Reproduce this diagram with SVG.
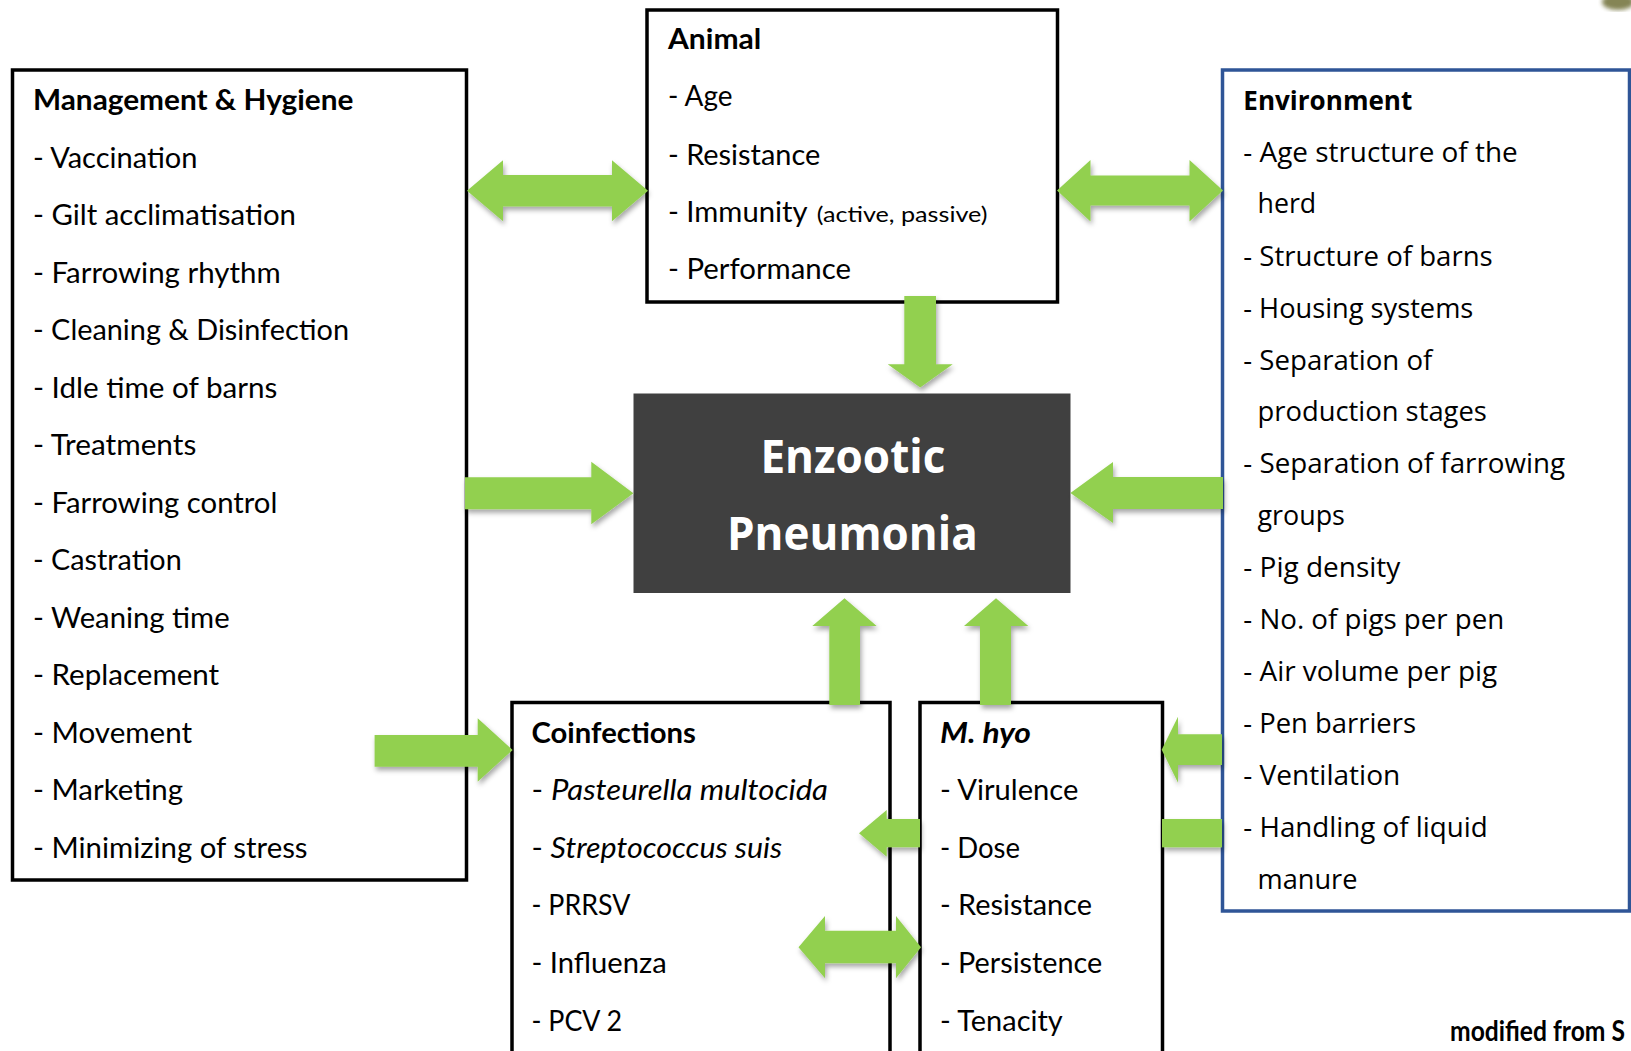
<svg xmlns="http://www.w3.org/2000/svg" width="1631" height="1051" viewBox="0 0 1631 1051">
<defs>
<style>
.box{fill:#fff;stroke:#000;stroke-width:3.5}
.envbox{fill:#fff;stroke:#2F5597;stroke-width:3.5}
.t{font-family:Lato,"Liberation Sans",sans-serif;font-size:28px;fill:#000}
.e{font-family:"Open Sans","Liberation Sans",sans-serif;font-size:27px;fill:#000}
.b{font-weight:700}
.i{font-style:italic}
.n{font-style:normal}
.ar{fill:#92D050;filter:url(#sh)}
.big{font-family:"Open Sans","Liberation Sans",sans-serif;font-size:47px;font-weight:700;fill:#fff}
</style>
<filter id="sh" x="-20%" y="-20%" width="150%" height="160%">
<feDropShadow dx="1.5" dy="3.5" stdDeviation="2.5" flood-color="#000" flood-opacity="0.35"/>
</filter>
<filter id="blur"><feGaussianBlur stdDeviation="2"/></filter>
</defs>
<rect width="1631" height="1051" fill="#fff"/>
<ellipse cx="1618" cy="2" rx="16" ry="8" fill="#707038" filter="url(#blur)" opacity="0.85"/>

<g id="management">
<rect class="box" x="12.5" y="70" width="454" height="810"/>
<text class="t b" x="33" y="110" textLength="320.4" lengthAdjust="spacingAndGlyphs">Management &amp; Hygiene</text>
<text class="t" x="33" y="167.5" textLength="164.5" lengthAdjust="spacingAndGlyphs">- Vaccination</text>
<text class="t" x="33" y="225" textLength="263" lengthAdjust="spacingAndGlyphs">- Gilt acclimatisation</text>
<text class="t" x="33" y="282.5" textLength="247.6" lengthAdjust="spacingAndGlyphs">- Farrowing rhythm</text>
<text class="t" x="33" y="340" textLength="316" lengthAdjust="spacingAndGlyphs">- Cleaning &amp; Disinfection</text>
<text class="t" x="33" y="397.5" textLength="244.4" lengthAdjust="spacingAndGlyphs">- Idle time of barns</text>
<text class="t" x="33" y="455" textLength="163.3" lengthAdjust="spacingAndGlyphs">- Treatments</text>
<text class="t" x="33" y="512.5" textLength="244.4" lengthAdjust="spacingAndGlyphs">- Farrowing control</text>
<text class="t" x="33" y="570" textLength="148.7" lengthAdjust="spacingAndGlyphs">- Castration</text>
<text class="t" x="33" y="627.5" textLength="196.6" lengthAdjust="spacingAndGlyphs">- Weaning time</text>
<text class="t" x="33" y="685" textLength="186.2" lengthAdjust="spacingAndGlyphs">- Replacement</text>
<text class="t" x="33" y="742.5" textLength="159" lengthAdjust="spacingAndGlyphs">- Movement</text>
<text class="t" x="33" y="800" textLength="150" lengthAdjust="spacingAndGlyphs">- Marketing</text>
<text class="t" x="33" y="857.5" textLength="274.6" lengthAdjust="spacingAndGlyphs">- Minimizing of stress</text>
</g>

<g id="animal">
<rect class="box" x="647" y="10" width="410.5" height="292"/>
<text class="t b" x="668" y="49.3" textLength="93.3" lengthAdjust="spacingAndGlyphs">Animal</text>
<text class="t" x="668" y="106" textLength="64.5" lengthAdjust="spacingAndGlyphs">- Age</text>
<text class="t" x="668" y="165" textLength="152.2" lengthAdjust="spacingAndGlyphs">- Resistance</text>
<text class="t" x="668" y="221.7"><tspan textLength="139.6" lengthAdjust="spacingAndGlyphs">- Immunity</tspan><tspan x="816.7" font-size="21" textLength="170.8" lengthAdjust="spacingAndGlyphs">(active, passive)</tspan></text>
<text class="t" x="668" y="279.3" textLength="183" lengthAdjust="spacingAndGlyphs">- Performance</text>
</g>

<g id="environment">
<rect class="envbox" x="1222.5" y="70" width="407" height="841"/>
<text class="e b" x="1243.3" y="110" textLength="169" lengthAdjust="spacingAndGlyphs">Environment</text>
<text class="e" x="1243.3" y="162.3" textLength="274.4" lengthAdjust="spacingAndGlyphs">- Age structure of the</text>
<text class="e" x="1257.5" y="213.3" textLength="58.7" lengthAdjust="spacingAndGlyphs">herd</text>
<text class="e" x="1243.3" y="265.7" textLength="249.4" lengthAdjust="spacingAndGlyphs">- Structure of barns</text>
<text class="e" x="1243.3" y="318.3" textLength="230" lengthAdjust="spacingAndGlyphs">- Housing systems</text>
<text class="e" x="1243.3" y="370" textLength="189" lengthAdjust="spacingAndGlyphs">- Separation of</text>
<text class="e" x="1257.5" y="420.7" textLength="229.4" lengthAdjust="spacingAndGlyphs">production stages</text>
<text class="e" x="1243.3" y="473.3" textLength="321.7" lengthAdjust="spacingAndGlyphs">- Separation of farrowing</text>
<text class="e" x="1257.5" y="525.2" textLength="87.4" lengthAdjust="spacingAndGlyphs">groups</text>
<text class="e" x="1243.3" y="577.1" textLength="157" lengthAdjust="spacingAndGlyphs">- Pig density</text>
<text class="e" x="1243.3" y="629" textLength="261" lengthAdjust="spacingAndGlyphs">- No. of pigs per pen</text>
<text class="e" x="1243.3" y="680.9" textLength="253.9" lengthAdjust="spacingAndGlyphs">- Air volume per pig</text>
<text class="e" x="1243.3" y="732.8" textLength="172.7" lengthAdjust="spacingAndGlyphs">- Pen barriers</text>
<text class="e" x="1243.3" y="784.7" textLength="157" lengthAdjust="spacingAndGlyphs">- Ventilation</text>
<text class="e" x="1243.3" y="836.6" textLength="244.5" lengthAdjust="spacingAndGlyphs">- Handling of liquid</text>
<text class="e" x="1257.5" y="888.5" textLength="100" lengthAdjust="spacingAndGlyphs">manure</text>
</g>

<g id="enzootic-pneumonia">
<rect x="633.5" y="393.5" width="437" height="199.5" fill="#404040"/>
<text class="big" x="760.4" y="473.3" textLength="185" lengthAdjust="spacingAndGlyphs">Enzootic</text>
<text class="big" x="727" y="550.3" textLength="250.7" lengthAdjust="spacingAndGlyphs">Pneumonia</text>
</g>

<g id="coinfections">
<rect class="box" x="512" y="702.5" width="378" height="360"/>
<text class="t b" x="531.5" y="742.7" textLength="164.4" lengthAdjust="spacingAndGlyphs">Coinfections</text>
<text class="t" x="531.5" y="800" textLength="296.5" lengthAdjust="spacingAndGlyphs">- <tspan class="i">Pasteurella multocida</tspan></text>
<text class="t" x="531.5" y="857.7" textLength="250.7" lengthAdjust="spacingAndGlyphs">- <tspan class="i">Streptococcus suis</tspan></text>
<text class="t" x="531.5" y="915" textLength="98.8" lengthAdjust="spacingAndGlyphs">- PRRSV</text>
<text class="t" x="531.5" y="972.7" textLength="135.2" lengthAdjust="spacingAndGlyphs">- Influenza</text>
<text class="t" x="531.5" y="1030.7" textLength="90.5" lengthAdjust="spacingAndGlyphs">- PCV 2</text>
</g>

<g id="m-hyo">
<rect class="box" x="920" y="702.5" width="242.5" height="360"/>
<text class="t b i" x="940" y="742.7" textLength="91" lengthAdjust="spacingAndGlyphs">M. hyo</text>
<text class="t" x="940" y="800" textLength="138.3" lengthAdjust="spacingAndGlyphs">- Virulence</text>
<text class="t" x="940" y="857.7" textLength="80" lengthAdjust="spacingAndGlyphs">- Dose</text>
<text class="t" x="940" y="915" textLength="152" lengthAdjust="spacingAndGlyphs">- Resistance</text>
<text class="t" x="940" y="972.7" textLength="162.3" lengthAdjust="spacingAndGlyphs">- Persistence</text>
<text class="t" x="940" y="1030.7" textLength="122.7" lengthAdjust="spacingAndGlyphs">- Tenacity</text>
</g>

<g id="connectors">
<polygon class="ar" points="467,190.7 503,160.2 503,174.9 612,174.9 612,160.2 648,190.7 612,221.2 612,206.5 503,206.5 503,221.2"/>
<polygon class="ar" points="1057,190.5 1090.5,160 1090.5,175.5 1189.5,175.5 1189.5,160 1223,190.5 1189.5,221.5 1189.5,205.5 1090.5,205.5 1090.5,221.5"/>
<polygon class="ar" points="904.3,296 936,296 936,364.3 952.7,364.3 920.2,387.5 887.7,364.3 904.3,364.3"/>
<polygon class="ar" points="465,477.3 591.3,477.3 591.3,461.7 633.4,493.3 591.3,524.3 591.3,509.3 465,509.3"/>
<polygon class="ar" points="1223,477 1113,477 1113,462 1070.4,493 1113,523 1113,509 1223,509"/>
<polygon class="ar" points="374.6,735 477.7,735 477.7,718.3 512.6,750 477.7,781.7 477.7,766.7 374.6,766.7"/>
<polygon class="ar" points="829.3,705 829.3,626 812.3,626 844.5,598.3 876.7,626 860,626 860,705"/>
<polygon class="ar" points="980,705 980,626 964,626 996,598.3 1028.3,626 1011,626 1011,705"/>
<polygon class="ar" points="1222,734.3 1178,734.3 1178,716.7 1161.7,749.7 1178,782.7 1178,765 1222,765"/>
<rect class="ar" x="1162" y="819" width="60" height="28.3"/>
<polygon class="ar" points="920,819 886.7,819 886.7,810 859,833.3 886.7,856.7 886.7,847.3 920,847.3"/>
<polygon class="ar" points="798.5,947.2 825,916 825,930.7 896,930.7 896,916 921,947.2 896,978.3 896,963.3 825,963.3 825,978.3"/>
</g>

<text class="t b" x="1450" y="1040.5" font-size="20" textLength="175" lengthAdjust="spacingAndGlyphs">modified from S</text>
</svg>
